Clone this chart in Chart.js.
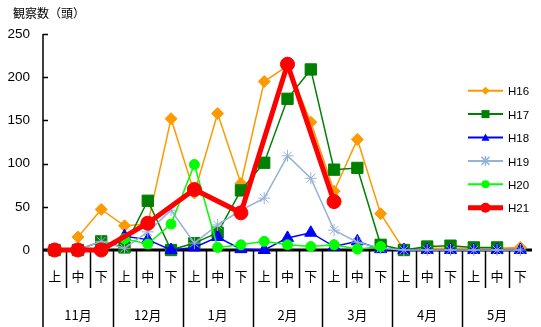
<!DOCTYPE html>
<html>
<head>
<meta charset="utf-8">
<script src="https://cdn.jsdelivr.net/npm/chart.js@4.4.1/dist/chart.umd.min.js"></script>
<style>
  html, body { margin: 0; padding: 0; background: #fff; }
  #wrap { width: 541px; height: 327px; }
</style>
</head>
<body>
<div id="wrap"><canvas id="chart" width="541" height="327"></canvas></div>
<script>
// x axis: 上中下 per month
const periods = ['上', '中', '下'];
const months = ['11月', '12月', '1月', '2月', '3月', '4月', '5月'];
const labels = months.flatMap((m) => periods.map((p) => m + p));

// observed counts (頭)
const h16 = [null, 15, 47, 28, 30, 152, 66, 158, 77, 195, 213, 148, 68, 128, 42, 0, 2, 2, 2, 2, 3];
const h17 = [0, 0, 10, 3, 57, 0, 8, 20, 69, 101, 175, 209, 93, 95, 6, 0, 4, 5, 3, 3, null];
const h18 = [0, 0, 1, 16, 12, 0, 3, 15, 1, 0, 14, 20, 4, 10, 1, 0, 0, 0, 0, 0, 0];
const h19 = [0, 0, 10, 2, 21, 46, 8, 29, 46, 60, 109, 83, 23, 9, 2, 0, 0, 0, 0, 0, 0];
const h20 = [0, 0, 2, 13, 7, 30, 99, 3, 6, 10, 6, 4, 6, 1, 4, null, null, null, null, null, null];
const h21 = [0, 0, 0, null, 31, null, 70, null, 43, null, 215, null, 56, null, null, null, null, null, null, null, null];

const yTicks = [0, 50, 100, 150, 200, 250];

const names = ['H16', 'H17', 'H18', 'H19', 'H20', 'H21'];
const series = [h16, h17, h18, h19, h20, h21];
const colors = ['#FF9900', '#008000', '#0000FF', '#95B3D7', '#00FF00', '#FF0000'];
const shapes = ['rectRot', 'rect', 'triangle', 'star', 'circle', 'circle'];
const radii = [6, 8, 7, 6, 5, 7];
const widths = [1.5, 1.5, 1.5, 1.5, 1.5, 5];

const JP = '"Noto Sans CJK JP", sans-serif';

// draw a small legend marker
function drawMarker(ctx, shape, x, y, r, color) {
  ctx.save();
  ctx.fillStyle = color;
  ctx.strokeStyle = color;
  ctx.lineWidth = 1.5;
  ctx.beginPath();
  if (shape === 'circle') {
    ctx.arc(x, y, r, 0, Math.PI * 2);
    ctx.fill();
  } else if (shape === 'rect') {
    ctx.fillRect(x - r, y - r, 2 * r, 2 * r);
  } else if (shape === 'rectRot') {
    ctx.moveTo(x, y - r); ctx.lineTo(x + r, y); ctx.lineTo(x, y + r); ctx.lineTo(x - r, y);
    ctx.closePath(); ctx.fill();
  } else if (shape === 'triangle') {
    ctx.moveTo(x, y - r); ctx.lineTo(x + r, y + r * 0.8); ctx.lineTo(x - r, y + r * 0.8);
    ctx.closePath(); ctx.fill();
  } else if (shape === 'star') {
    ctx.moveTo(x - r, y - r); ctx.lineTo(x + r, y + r);
    ctx.moveTo(x + r, y - r); ctx.lineTo(x - r, y + r);
    ctx.moveTo(x, y - r * 1.2); ctx.lineTo(x, y + r * 1.2);
    ctx.stroke();
  }
  ctx.restore();
}

const decor = {
  id: 'decor',
  beforeDatasetsDraw(chart) {
    const { ctx, chartArea: a, scales: { x, y } } = chart;
    const y0 = y.getPixelForValue(0);
    const w = x.getPixelForValue(1) - x.getPixelForValue(0);
    ctx.save();
    ctx.strokeStyle = '#000';

    // category separators under the axis
    ctx.lineWidth = 1.5;
    for (let i = 1; i < labels.length; i++) {
      const bx = Math.round(x.getPixelForValue(i) - w / 2) + 0.5;
      ctx.beginPath();
      ctx.moveTo(bx, y0);
      ctx.lineTo(bx, i % 3 === 0 ? chart.height : 288);
      ctx.stroke();
    }

    // y axis line down to the bottom
    ctx.beginPath();
    ctx.moveTo(a.left, a.top);
    ctx.lineTo(a.left, chart.height);
    ctx.stroke();

    // inside tick marks
    yTicks.forEach((v) => {
      const py = Math.round(y.getPixelForValue(v)) + 0.5;
      ctx.beginPath();
      ctx.moveTo(a.left, py);
      ctx.lineTo(a.left + 5, py);
      ctx.stroke();
    });

    // zero line
    ctx.lineWidth = 3;
    ctx.beginPath();
    ctx.moveTo(a.left, y0);
    ctx.lineTo(a.right, y0);
    ctx.stroke();
    ctx.restore();
  },
  afterDraw(chart) {
    const { ctx, scales: { x } } = chart;
    const w = x.getPixelForValue(1) - x.getPixelForValue(0);
    ctx.save();
    ctx.fillStyle = '#000';
    ctx.textBaseline = 'middle';

    // title
    ctx.font = '12px ' + JP;
    ctx.textAlign = 'left';
    ctx.fillText('観察数（頭）', 13, 13);

    // 上中下 and month labels
    ctx.font = '13px ' + JP;
    ctx.textAlign = 'center';
    labels.forEach((lab, i) => {
      ctx.fillText(periods[i % 3], x.getPixelForValue(i), 276);
    });
    months.forEach((m, k) => {
      ctx.fillText(m, x.getPixelForValue(k * 3 + 1), 315);
    });

    // legend
    ctx.textAlign = 'left';
    ctx.font = '11.5px "Liberation Sans", Arial, sans-serif';
    names.forEach((n, i) => {
      const ly = 90.7 + 23.4 * i;
      ctx.strokeStyle = colors[i];
      ctx.lineWidth = i === 5 ? 5 : 2;
      ctx.beginPath();
      ctx.moveTo(468, ly);
      ctx.lineTo(503, ly);
      ctx.stroke();
      drawMarker(ctx, shapes[i], 485.5, ly, i === 5 ? 5 : 4, colors[i]);
      ctx.fillStyle = '#000';
      ctx.fillText(n, 508, ly + 1.5);
    });
    ctx.restore();
  }
};

new Chart(document.getElementById('chart'), {
  type: 'line',
  data: {
    labels: labels,
    datasets: series.map((d, i) => ({
      label: names[i],
      data: d,
      borderColor: colors[i],
      backgroundColor: colors[i],
      borderWidth: widths[i],
      pointStyle: shapes[i],
      pointRadius: radii[i],
      pointBorderWidth: 1,
      pointBorderColor: colors[i],
      pointBackgroundColor: colors[i],
      spanGaps: true,
      tension: 0,
      clip: false,
      order: names.length - i,
    })),
  },
  options: {
    responsive: false,
    animation: false,
    layout: { padding: { top: 34, bottom: 77, left: 0, right: 0 } },
    plugins: { legend: { display: false }, tooltip: { enabled: false }, title: { display: false } },
    scales: {
      x: { type: 'category', offset: true, display: false },
      y: {
        min: 0,
        max: 250,
        afterFit: (scale) => { scale.width = 43; },
        ticks: { stepSize: 50, padding: 13, color: '#000', font: { family: '"Liberation Sans", Arial, sans-serif', size: 13.5 } },
        grid: { display: false, drawTicks: false },
        border: { display: false },
      },
    },
  },
  plugins: [decor],
});
</script>
</body>
</html>
